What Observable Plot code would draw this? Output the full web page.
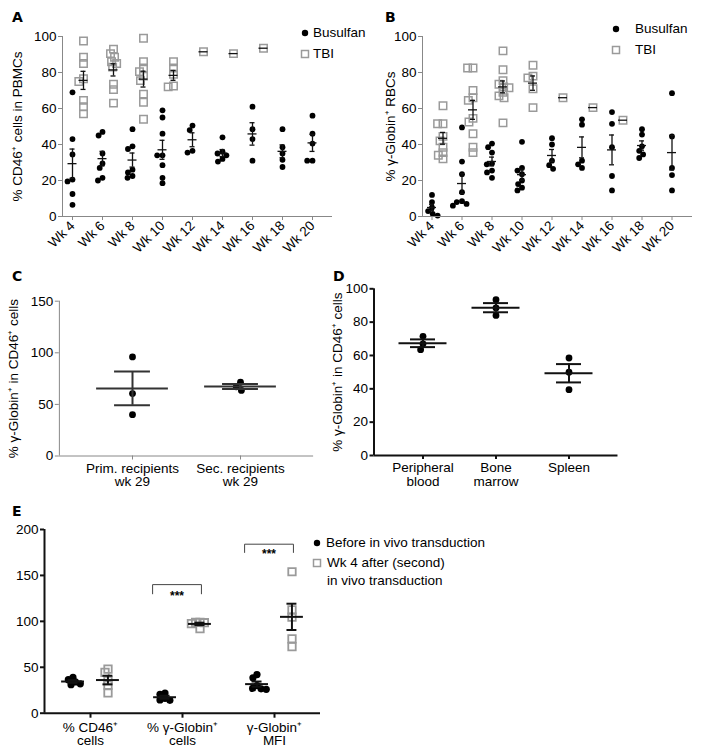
<!DOCTYPE html>
<html><head><meta charset="utf-8">
<script src="https://cdn.jsdelivr.net/npm/d3@7"></script>
<script src="https://cdn.jsdelivr.net/npm/@observablehq/plot@0.6"></script>
<style>
body{margin:0;background:#fff;}
#root{position:relative;width:727px;height:756px;font-family:"Liberation Sans",Arial,sans-serif;font-size:13.5px;color:#000;overflow:hidden;background:#fff}
.letter{position:absolute;font-family:"DejaVu Sans",sans-serif;font-weight:bold;font-size:14px;line-height:14px}
.leg{position:absolute;font-size:13.5px;line-height:16px;white-space:nowrap}
</style></head><body><div id="root"></div>
<script>
// ---------- data ----------
const weeks = ["Wk 4","Wk 6","Wk 8","Wk 10","Wk 12","Wk 14","Wk 16","Wk 18","Wk 20"];
const seriesNames = ["Busulfan","TBI"];
// Panel A: % CD46+ cells in PBMCs
const aBusulfan = [
  [69,43,34.5,20.5,19.5,12.5,6.5],
  [47,45,35,29.5,27,21.5,20],
  [48.5,39,37.5,26,24.5,22.5,21.5],
  [59,55,46,34,34,28.5,21.5,18.5],
  [50.5,48,36.5,35.5],
  [44,36,35,34,32,30.5],
  [61,48.5,43,31],
  [48.5,38.5,35,31.5,27.5],
  [56,46,40.5,31,31]
];
const aTBI = [
  [97.5,88.5,85,76.5,75,64.5,61,57],
  [93,90.5,88.5,86,85,83,73.5,70.5,63],
  [99,86,82.5,80.5,78,75.5,68,63.5,54],
  [86,82.5,79,72.5,72],
  [91.5],[90.5],[93.5],[],[]
];
// Panel B: % gamma-globin+ RBCs
const bBusulfan = [
  [12,8,5,3,1.5,0.5],
  [49.5,30.5,23.5,13.5,8.5,8,7,6],
  [40.5,38.5,35.5,29.5,29,25.5,24.5,21.5],
  [41.5,27,25.5,23.5,20,18,16,14.5],
  [43.5,40,31,28.5,26.5],
  [54,51,31,29,27],
  [58,51.5,38.5,22.5,14.5],
  [48.5,45.5,39,36.5,34.5,32.5],
  [68.5,44.5,27,23,14.5]
];
const bTBI = [
  [61.5,51.5,51.5,44.5,42,38.5,35.5,34,32],
  [82.5,82.5,70,66,64.5,54.5,52.5,46,38.5,35.5],
  [92,81.5,75.5,73.5,72,71.5,69,67,66,52],
  [84,78,77,71,60.5],
  [66],[60.5],[53.5],[],[]
];
// Panel C
const cCats = ["Prim. recipients\nwk 29","Sec. recipients\nwk 29"];
const cValues = [[96,60.5,40],[71.5,67,63.5]];
// Panel D
const dCats = ["Peripheral\nblood","Bone\nmarrow","Spleen"];
const dValues = [[71.5,67,63.5],[93.5,88.5,84],[58.5,50,39.5]];
// Panel E
const eCats = ["% CD46⁺\ncells","% γ-Globin⁺\ncells","γ-Globin⁺\nMFI"];
const eSeriesNames = ["Before in vivo transduction","Wk 4 after (second)\nin vivo transduction"];
const eBefore = [[39,36.5,34,32,31],[22,20.5,16,14.5,14],[42,38.5,30,27,26.5,26]];
const eAfter = [[48,44.5,35.5,30.5,22],[99,99,98.5,97.5,92],[154,112.5,104.5,81,72.5]];
const eBrackets = [
  {cat: eCats[1], top: 140, leg: 130, label: "***"},
  {cat: eCats[2], top: 184, leg: 175, label: "***"}
];

// ---------- builder ----------
const root = document.getElementById("root");
const FONT = "'Liberation Sans', Arial, sans-serif";

function scatterPanel(o) {
  const innerW = o.width - o.mL - o.mR;
  const po = o.po || 0;
  const step = innerW / (o.cats.length + 2 * po);
  const half = step / 2;
  const xLeft = -half - po * step;
  const xRight = xLeft + innerW;
  const rows = [], stats = [];
  for (const s of o.series) {
    o.cats.forEach((c, i) => {
      const vals = s.values[i] || [];
      for (const v of vals) rows.push({cat: c, series: s.name, value: v});
      if (vals.length) {
        const m = d3.mean(vals);
        const se = vals.length > 1 ? d3.deviation(vals) / Math.sqrt(vals.length) : 0;
        stats.push({cat: c, off: s.offset, mean: m, lo: m - se, hi: m + se, se});
      }
    });
  }
  const b = o.bar;
  const withSe = stats.filter(d => d.se > 0);
  const marks = [];
  for (const s of o.series) {
    marks.push(Plot.dot(rows.filter(r => r.series === s.name),
      Plot.dodgeX({anchor: "middle", r: s.r, padding: s.pad ?? 0},
        {fx: "cat", y: "value", r: s.r, symbol: s.symbol, fill: s.fill, stroke: s.stroke, strokeWidth: s.sw, dx: s.offset})));
  }
  const bs = {stroke: b.color, strokeWidth: b.width};
  marks.push(
    Plot.ruleX(withSe, {fx: "cat", x: "off", y1: "lo", y2: "hi", ...bs}),
    Plot.ruleY(stats, {fx: "cat", y: "mean", x1: d => d.off - b.mean, x2: d => d.off + b.mean, ...bs}),
    Plot.ruleY(withSe, {fx: "cat", y: "lo", x1: d => d.off - b.cap, x2: d => d.off + b.cap, ...bs}),
    Plot.ruleY(withSe, {fx: "cat", y: "hi", x1: d => d.off - b.cap, x2: d => d.off + b.cap, ...bs}),
    Plot.ruleY([o.cats[0]], {fx: d => d, y: o.yDomain[0], x1: xLeft, x2: xRight, stroke: o.axisColor, strokeWidth: o.axisWidth}),
    Plot.ruleX([o.cats[0]], {fx: d => d, x: xLeft, y1: o.yDomain[0], y2: o.yDomain[1], stroke: o.axisColor, strokeWidth: o.axisWidth}),
    Plot.axisY({ticks: o.yTicks, tickSize: o.yTickSize ?? 4, tickPadding: 2, stroke: o.axisColor, strokeWidth: o.axisWidth,
      fill: "black", label: o.yLabel, labelAnchor: "center", labelOffset: o.labelOffset, labelArrow: "none", dx: -po * step}),
    Plot.axisFx({anchor: "bottom", tickSize: o.xTickSize ?? 4, tickPadding: o.xTickPadding ?? 3, tickRotate: o.tickRotate || 0,
      dx: o.tickDx || 0, stroke: o.axisColor, strokeWidth: o.axisWidth, fill: "black", label: null, tickFormat: d => d})
  );
  if (o.extra) marks.push(...o.extra());
  return Plot.plot({
    width: o.width, height: o.height,
    marginLeft: o.mL, marginRight: o.mR, marginTop: o.mT, marginBottom: o.mB,
    style: {fontSize: "13.5px", fontFamily: FONT, background: "transparent", overflow: "visible", color: "black"},
    x: {domain: [-half, half], axis: null},
    y: {domain: o.yDomain},
    fx: {domain: o.cats, paddingInner: 0, paddingOuter: po},
    marks
  });
}

function place(node, left, top) {
  node.style.position = "absolute";
  node.style.left = left + "px";
  node.style.top = top + "px";
  root.appendChild(node);
}

const dotStyle = (r, pad = -0.5) => ({symbol: "circle", r, fill: "black", stroke: "none", sw: 0, pad});
const sqStyle = (r, sw, pad = -3) => ({symbol: "square", r, fill: "none", stroke: "#9a9a9a", sw, pad});

// Panel A
place(scatterPanel({
  cats: weeks, width: 360, height: 252, mL: 62, mR: 28, mT: 36, mB: 36,
  yDomain: [0, 100], yTicks: [0, 20, 40, 60, 80, 100], yLabel: "% CD46⁺ cells in PBMCs", labelOffset: 50,
  axisColor: "#888", axisWidth: 1, tickRotate: -45, tickDx: -5,
  bar: {mean: 4.5, cap: 2.5, width: 1.3, color: "#111"},
  series: [
    {name: seriesNames[0], values: aBusulfan, offset: -5, ...dotStyle(2.9)},
    {name: seriesNames[1], values: aTBI, offset: 6, ...sqStyle(4.2, 1.5)}
  ]
}), 0, 0);

// Panel B
place(scatterPanel({
  cats: weeks, width: 367, height: 252, mL: 62, mR: 35, mT: 36, mB: 36,
  yDomain: [0, 100], yTicks: [0, 20, 40, 60, 80, 100], yLabel: "% γ-Globin⁺ RBCs", labelOffset: 37,
  axisColor: "#888", axisWidth: 1, tickRotate: -45, tickDx: -5.5,
  bar: {mean: 4.5, cap: 2.5, width: 1.3, color: "#111"},
  series: [
    {name: seriesNames[0], values: bBusulfan, offset: -5.5, ...dotStyle(2.9)},
    {name: seriesNames[1], values: bTBI, offset: 5.5, ...sqStyle(4.2, 1.5)}
  ]
}), 360, 0);

// Panel C
place(scatterPanel({
  cats: cCats, width: 330, height: 226, mL: 58, mR: 17, mT: 30.7, mB: 40.5, po: 0.177,
  yDomain: [0, 150], yTicks: [0, 50, 100, 150], yLabel: "% γ-Globin⁺ in CD46⁺ cells", labelOffset: 70,
  axisColor: "#888", axisWidth: 1,
  bar: {mean: 36, cap: 18, width: 2, color: "#333"},
  series: [{name: "C", values: cValues, offset: 0, ...dotStyle(3.4)}]
}), 0, 270);

// Panel D
place(scatterPanel({
  cats: dCats, width: 407, height: 226, mL: 53, mR: 110, mT: 18.3, mB: 41, po: 0.171,
  yDomain: [0, 100], yTicks: [0, 20, 40, 60, 80, 100], yLabel: "% γ-Globin⁺ in CD46⁺ cells", labelOffset: 54.5,
  axisColor: "#111", axisWidth: 2,
  bar: {mean: 24, cap: 12.5, width: 2, color: "#111"},
  series: [{name: "D", values: dValues, offset: 0, ...dotStyle(3.4)}]
}), 320, 270);

// Panel E
const bx1 = -30, bx2 = 19;
place(scatterPanel({
  cats: eCats, width: 330, height: 251, mL: 43, mR: 10, mT: 24, mB: 43.3,
  yDomain: [0, 200], yTicks: [0, 50, 100, 150, 200], yLabel: null, labelOffset: 0,
  axisColor: "#111", axisWidth: 2, xTickSize: 5, xTickPadding: 4,
  bar: {mean: 11.5, cap: 5, width: 2, color: "#111"},
  series: [
    {name: eSeriesNames[0], values: eBefore, offset: -17.5, ...dotStyle(3.6, -2)},
    {name: eSeriesNames[1], values: eAfter, offset: 17.5, ...sqStyle(4.2, 1.8, -4)}
  ],
  extra: () => {
    const pts = eBrackets.flatMap((d, i) => [
      {cat: d.cat, id: i, x: bx1, y: d.leg}, {cat: d.cat, id: i, x: bx1, y: d.top},
      {cat: d.cat, id: i, x: bx2, y: d.top}, {cat: d.cat, id: i, x: bx2, y: d.leg}]);
    return [
      Plot.line(pts, {fx: "cat", x: "x", y: "y", z: "id", stroke: "#444", strokeWidth: 1}),
      Plot.text(eBrackets, {fx: "cat", x: (bx1 + bx2) / 2, y: d => d.leg, text: "label", dy: 2, fontSize: 12, fontWeight: "bold"})
    ];
  }
}), 0, 505);

// ---------- letters ----------
[["A", 12, 10], ["B", 385, 10], ["C", 12, 269], ["D", 333, 269], ["E", 12, 504]].forEach(([t, x, y]) => {
  const d = document.createElement("div");
  d.className = "letter"; d.textContent = t;
  d.style.left = x + "px"; d.style.top = y + "px";
  root.appendChild(d);
});

// ---------- legends ----------
function legendItem(cx, cy, kind, text, tx) {
  const svg = d3.create("svg").attr("width", 12).attr("height", 12)
    .style("position", "absolute").style("left", (cx - 6) + "px").style("top", (cy - 6) + "px");
  if (kind === "dot") svg.append("circle").attr("cx", 6).attr("cy", 6).attr("r", 3.2).attr("fill", "black");
  else svg.append("rect").attr("x", 2.5).attr("y", 2.5).attr("width", 7).attr("height", 7)
    .attr("fill", "none").attr("stroke", "#9a9a9a").attr("stroke-width", 1.5);
  root.appendChild(svg.node());
  const lines = text.split("\n");
  lines.forEach((ln, i) => {
    const d = document.createElement("div");
    d.className = "leg"; d.textContent = ln;
    d.style.left = tx + "px"; d.style.top = (cy - 8 + i * 18) + "px";
    root.appendChild(d);
  });
}
legendItem(305, 33, "dot", seriesNames[0], 313);
legendItem(305, 54, "sq", seriesNames[1], 313);
legendItem(616, 29, "dot", seriesNames[0], 635);
legendItem(616, 50, "sq", seriesNames[1], 635);
legendItem(317, 543, "dot", eSeriesNames[0], 326);
legendItem(317, 563, "sq", eSeriesNames[1], 327);
</script>
</body></html>
